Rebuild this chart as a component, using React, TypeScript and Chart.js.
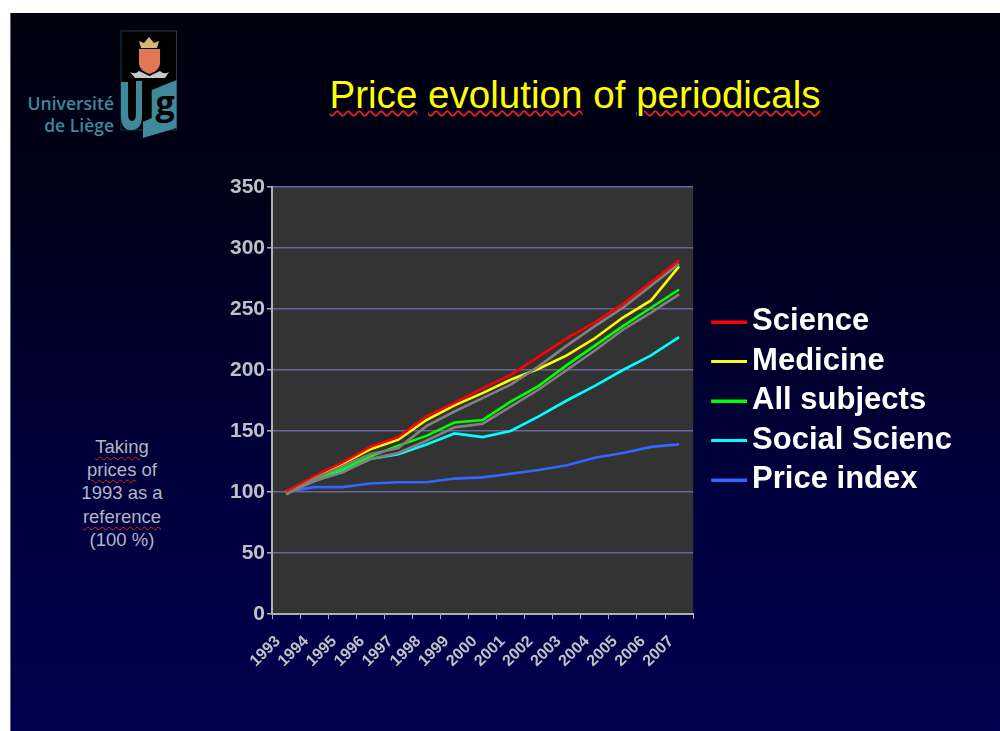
import React, { useEffect, useRef } from "react";
import { Chart, registerables } from "chart.js";

Chart.register(...registerables);

const years = ["1993","1994","1995","1996","1997","1998","1999","2000","2001","2002","2003","2004","2005","2006","2007"];
const yTicks = [0, 50, 100, 150, 200, 250, 300, 350];
const science = [100,113,124,137,145,162,173,185,196,211,226,239,254,272,290];
const medicine = [100,112,123,135,143,159,171,181,192,201,212,226,243,257,285];
const allSubjects = [100,110,119,129,138,146,157,159,174,187,204,220,236,251,266];
const socialScience = [100,109,117,127,131,139,148,145,150,162,175,187,200,212,227];
const priceIndex = [100,104,104,107,108,108,111,112,115,118,122,128,132,137,139];
const greyUpper = [98,111,121,131,136,154,166,177,188,203,220,236,251,269,287];
const greyLower = [98,109,116,127,132,142,153,156,170,184,200,216,233,247,262];

const sampleFor = (color: string) => {
  const c = document.createElement("canvas");
  c.width = 56;
  c.height = 4;
  const g = c.getContext("2d")!;
  g.fillStyle = color;
  g.fillRect(20, 1, 36, 3);
  return c;
};

const line = (label: string, data: number[], color: string, inLegend = true) => ({
  label,
  data,
  borderColor: color,
  backgroundColor: color,
  borderWidth: 2.6,
  pointRadius: 0,
  tension: 0,
  pointStyle: inLegend ? sampleFor(color) : undefined,
});

const plotBackground = {
  id: "plotBackground",
  beforeDraw(chart: any) {
    const { ctx, chartArea: a } = chart;
    ctx.save();
    ctx.fillStyle = "#333333";
    ctx.fillRect(a.left, a.top, a.right - a.left, a.bottom - a.top);
    ctx.restore();
  },
};

const wavy: React.CSSProperties = {
  textDecoration: "underline wavy #e02020",
  textDecorationThickness: "1.5px",
  textUnderlineOffset: "2px",
};

const wavySmall: React.CSSProperties = {
  textDecoration: "underline wavy #e02020",
  textDecorationThickness: "1px",
  textUnderlineOffset: "3px",
};

export default function App() {
  const ref = useRef<HTMLCanvasElement>(null);
  useEffect(() => {
    const chart = new Chart(ref.current!, {
      type: "line",
      data: {
        labels: years,
        datasets: [
          line("", greyUpper, "#808080", false),
          line("", greyLower, "#808080", false),
          line("Science", science, "#ff0000"),
          line("Medicine", medicine, "#ffff00"),
          line("All subjects", allSubjects, "#00ff00"),
          line("Social Scienc", socialScience, "#00ffff"),
          line("Price index", priceIndex, "#3366ff"),
        ],
      },
      options: {
        responsive: false,
        animation: false,
        layout: { padding: { left: 222, top: 187, bottom: 46, right: 38 } },
        plugins: {
          title: { display: false },
          tooltip: { enabled: false },
          legend: {
            position: "right",
            align: "center",
            fullSize: false,
            maxWidth: 400,
            labels: {
              usePointStyle: true,
              pointStyleWidth: 35,
              boxHeight: 4,
              padding: 8.5,
              color: "#ffffff",
              font: { family: "'Liberation Sans'", size: 31, weight: "bold" },
              filter: (item: any) => item.text !== "",
            },
          },
        },
        scales: {
          x: {
            offset: true,
            afterFit: (s: any) => { s.height = 71; },
            grid: {
              offset: true,
              drawOnChartArea: false,
              drawTicks: true,
              tickLength: 5,
              color: "#b0b0b0",
              tickColor: "#b0b0b0",
            },
            border: { color: "#b0b0b0", width: 2 },
            ticks: {
              autoSkip: false,
              minRotation: 45,
              maxRotation: 45,
              labelOffset: -8,
              padding: 13,
              color: "#c0c0c8",
              font: { family: "'Liberation Sans'", size: 16, weight: "bold" },
            },
          },
          y: {
            min: 0,
            max: 350,
            afterFit: (s: any) => { s.width = 50; },
            afterBuildTicks: (s: any) => { s.ticks = yTicks.map((value) => ({ value })); },
            grid: {
              color: "#66669a",
              lineWidth: 1.5,
              drawTicks: true,
              tickLength: 5,
              tickColor: "#b0b0b0",
            },
            border: { color: "#b0b0b0", width: 2 },
            ticks: {
              padding: 2,
              color: "#c0c0c8",
              font: { family: "'Liberation Sans'", size: 21, weight: "bold" },
            },
          },
        },
      },
      plugins: [plotBackground],
    } as any);
    return () => chart.destroy();
  }, []);

  return (
    <div style={{ position: "fixed", inset: 0, width: 1000, height: 731, background: "#ffffff", overflow: "hidden", fontFamily: "'Liberation Sans'" }}>
      <div style={{ position: "absolute", left: 10, top: 13, right: 0, bottom: 0, borderLeft: "1px solid #666680", background: "linear-gradient(#00000e 0%, #000018 25%, #000038 60%, #000050 100%)" }} />
      <svg width={70} height={120} style={{ position: "absolute", left: 115, top: 25 }} viewBox="115 25 70 120">
        <rect x={121} y={31} width={55.5} height={99} fill="#000" stroke="#2a5560" strokeWidth={0.7} />
        <path d="M141 48 l-2 -7 l5 2 l5 -6 l5 6 l5 -2 l-2 7 z" fill="#d8b878" />
        <path d="M139 49 h21 v15 q-1 7 -10.500 10 q-9.500 -3 -10.500 -10 z" fill="#e07858" />
        <path d="M130 72 q5 3 9 -1 l10.500 5 l10.500 -5 q4 4 9 1 l-4 6 h-30 z" fill="#c8c8c8" />
        <path d="M121 82 H128 V113 Q128 121 132 121 Q136 121 136 113 V81 H142 V116 Q142 130 131 130 Q121 130 121 116 Z" fill="#40899c" />
        <path d="M151.700 90 L176.500 80 V128 L143 138 V122 L151.700 118 Z" fill="#40899c" />
        <text x={165} y={115} textAnchor="middle" fontFamily="'Open Sans'" fontWeight={700} fontSize={34} fill="#000">g</text>
      </svg>
      <div style={{ position: "absolute", right: 886, top: 92, textAlign: "right", color: "#3f8799", fontFamily: "'Open Sans'", fontWeight: 600, fontSize: 17.5, lineHeight: "22px", whiteSpace: "nowrap" }}>
        Université<br />de Liège
      </div>
      <div style={{ position: "absolute", left: 275, width: 600, top: 73, textAlign: "center", color: "#ffff00", fontSize: 38.6, lineHeight: "44px", whiteSpace: "nowrap" }}>
        <span style={wavy}>Price</span> <span style={wavy}>evolution</span> of <span style={wavy}>periodicals</span>
      </div>
      <div style={{ position: "absolute", left: 62, width: 120, top: 435, textAlign: "center", color: "#b4b4c4", fontSize: 18.5, lineHeight: "23.2px", whiteSpace: "nowrap" }}>
        <span style={wavySmall}>Taking</span><br /><span style={wavySmall}>prices</span> of<br />1993 as a<br /><span style={wavySmall}>reference</span><br />(100 %)
      </div>
      <canvas ref={ref} width={1000} height={731} style={{ position: "absolute", left: 0, top: 0, width: 1000, height: 731 }} />
    </div>
  );
}
